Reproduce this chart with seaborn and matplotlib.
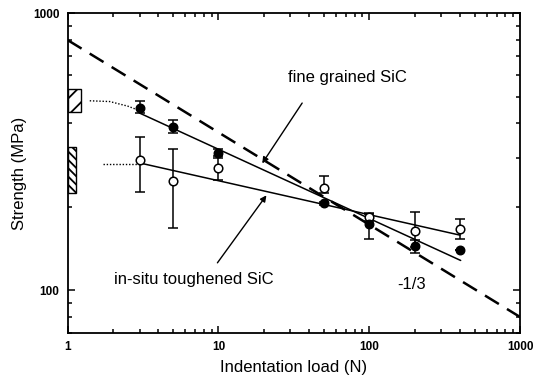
import numpy as np
import pandas as pd
import matplotlib
matplotlib.use("Agg")
import matplotlib.pyplot as plt
from matplotlib.patches import Rectangle
from matplotlib.ticker import LogLocator, NullFormatter, FixedLocator, FixedFormatter
import seaborn as sns

# Indentation loads (N)
loads = [3, 5, 10, 50, 100, 200, 400]

# Fine grained SiC (filled circles)
fine_strength = [454, 390, 312, 206, 173, 144, 140]
fine_err_lo = [17, 19, 12, 3, 20, 8, 0]
fine_err_hi = [28, 21, 12, 3, 17, 8, 0]

# In-situ toughened SiC (open circles)
insitu_strength = [295, 247, 276, 233, 183, 163, 166]
insitu_err_lo = [68, 79, 26, 9, 5, 20, 13]
insitu_err_hi = [63, 77, 29, 26, 5, 28, 15]

# Fitted lines (end points)
fine_fit_x = [3, 404]
fine_fit_y = [436, 128]
insitu_fit_x = [3, 400]
insitu_fit_y = [288, 158]

# -1/3 slope reference line
ref_x = [1, 1000]
ref_y = [800, 80]

# Dotted extensions to the unindented strength
fine_dot_x = [1.40, 1.9, 2.5, 3.0]
fine_dot_y = [483, 480, 462, 445]
insitu_dot_x = [1.72, 3.0]
insitu_dot_y = [285, 285]

# Unindented strength bands (x-extent, y-range)
fine_band = (1.0, 1.22, 441, 532)
insitu_band = (1.0, 1.135, 224, 330)

sns.set_style("ticks")
plt.rcParams["font.family"] = ["Liberation Sans", "DejaVu Sans"]
plt.rcParams["hatch.linewidth"] = 1.3
plt.rcParams["text.color"] = "black"
plt.rcParams["axes.labelcolor"] = "black"
plt.rcParams["xtick.color"] = "black"
plt.rcParams["ytick.color"] = "black"
plt.rcParams["axes.edgecolor"] = "black"

fig = plt.figure(figsize=(5.34, 3.83), dpi=100)
ax = fig.add_axes([0.1268, 0.1305, 0.8470, 0.8348])

ax.set_xscale("log")
ax.set_yscale("log")
ax.set_xlim(1, 1000)
ax.set_ylim(70, 1000)

# reference line and fits
sns.lineplot(x=ref_x, y=ref_y, ax=ax, color="black", lw=1.8,
             dashes=False, linestyle=(0, (6.5, 3.8)))
sns.lineplot(x=fine_fit_x, y=fine_fit_y, ax=ax, color="black", lw=1.1)
sns.lineplot(x=insitu_fit_x, y=insitu_fit_y, ax=ax, color="black", lw=1.1)
ax.plot(fine_dot_x, fine_dot_y, color="black", lw=1.0, linestyle=(0, (1, 1.3)))
ax.plot(insitu_dot_x, insitu_dot_y, color="black", lw=1.0, linestyle=(0, (1, 1.3)))

# error bars + markers
ax.errorbar(loads, insitu_strength, yerr=[insitu_err_lo, insitu_err_hi], fmt="none",
            ecolor="black", elinewidth=1.1, capsize=3.5, capthick=1.1, zorder=3)
ax.errorbar(loads, fine_strength, yerr=[fine_err_lo, fine_err_hi], fmt="none",
            ecolor="black", elinewidth=1.1, capsize=3.5, capthick=1.1, zorder=3)
df_open = pd.DataFrame({"load": loads, "strength": insitu_strength})
df_fill = pd.DataFrame({"load": loads, "strength": fine_strength})
sns.scatterplot(data=df_open, x="load", y="strength", ax=ax, s=38, color="white",
                edgecolor="black", linewidth=1.1, zorder=4)
sns.scatterplot(data=df_fill, x="load", y="strength", ax=ax, s=38, color="black",
                edgecolor="black", linewidth=1.0, zorder=5)

# hatched bands
x0, x1, y0, y1 = fine_band
ax.add_patch(Rectangle((x0, y0), x1 - x0, y1 - y0, facecolor="white",
                       edgecolor="black", lw=1.0, hatch="//", zorder=3, clip_on=False))
x0, x1, y0, y1 = insitu_band
ax.add_patch(Rectangle((x0, y0), x1 - x0, y1 - y0, facecolor="white",
                       edgecolor="black", lw=1.0, hatch="\\\\\\\\", zorder=3, clip_on=False))

# annotations
arrow = dict(arrowstyle="-|>", color="black", lw=1.0, mutation_scale=9, shrinkA=0, shrinkB=0)
ax.annotate("", xy=(19.5, 287), xytext=(35.9, 474), arrowprops=arrow)
ax.text(72, 584, "fine grained SiC", fontsize=12, ha="center", va="center")
ax.annotate("", xy=(20.8, 220), xytext=(9.84, 125.5), arrowprops=arrow)
ax.text(6.9, 109, "in-situ toughened SiC", fontsize=12, ha="center", va="center")
ax.text(191, 104.5, "-1/3", fontsize=12, ha="center", va="center")

ax.set_xlabel("Indentation load (N)", fontsize=12, labelpad=5)
ax.set_ylabel("Strength (MPa)", fontsize=12, labelpad=4)

ax.xaxis.set_major_locator(FixedLocator([1, 10, 100, 1000]))
ax.xaxis.set_major_formatter(FixedFormatter(["1", "10", "100", "1000"]))
ax.xaxis.set_minor_locator(LogLocator(base=10, subs=np.arange(2, 10)))
ax.xaxis.set_minor_formatter(NullFormatter())
ax.yaxis.set_major_locator(FixedLocator([100, 1000]))
ax.yaxis.set_major_formatter(FixedFormatter(["100", "1000"]))
ax.yaxis.set_minor_locator(LogLocator(base=10, subs=np.arange(2, 10)))
ax.yaxis.set_minor_formatter(NullFormatter())

ax.tick_params(which="both", direction="in", top=True, right=True, width=1.1, color="black")
ax.tick_params(which="major", length=5, labelsize=8.5, pad=6)
ax.tick_params(which="minor", length=3)
for lab in ax.get_xticklabels() + ax.get_yticklabels():
    lab.set_fontweight("bold")
for sp in ax.spines.values():
    sp.set_linewidth(1.3)
    sp.set_visible(True)

fig.savefig("out.png", dpi=100)
